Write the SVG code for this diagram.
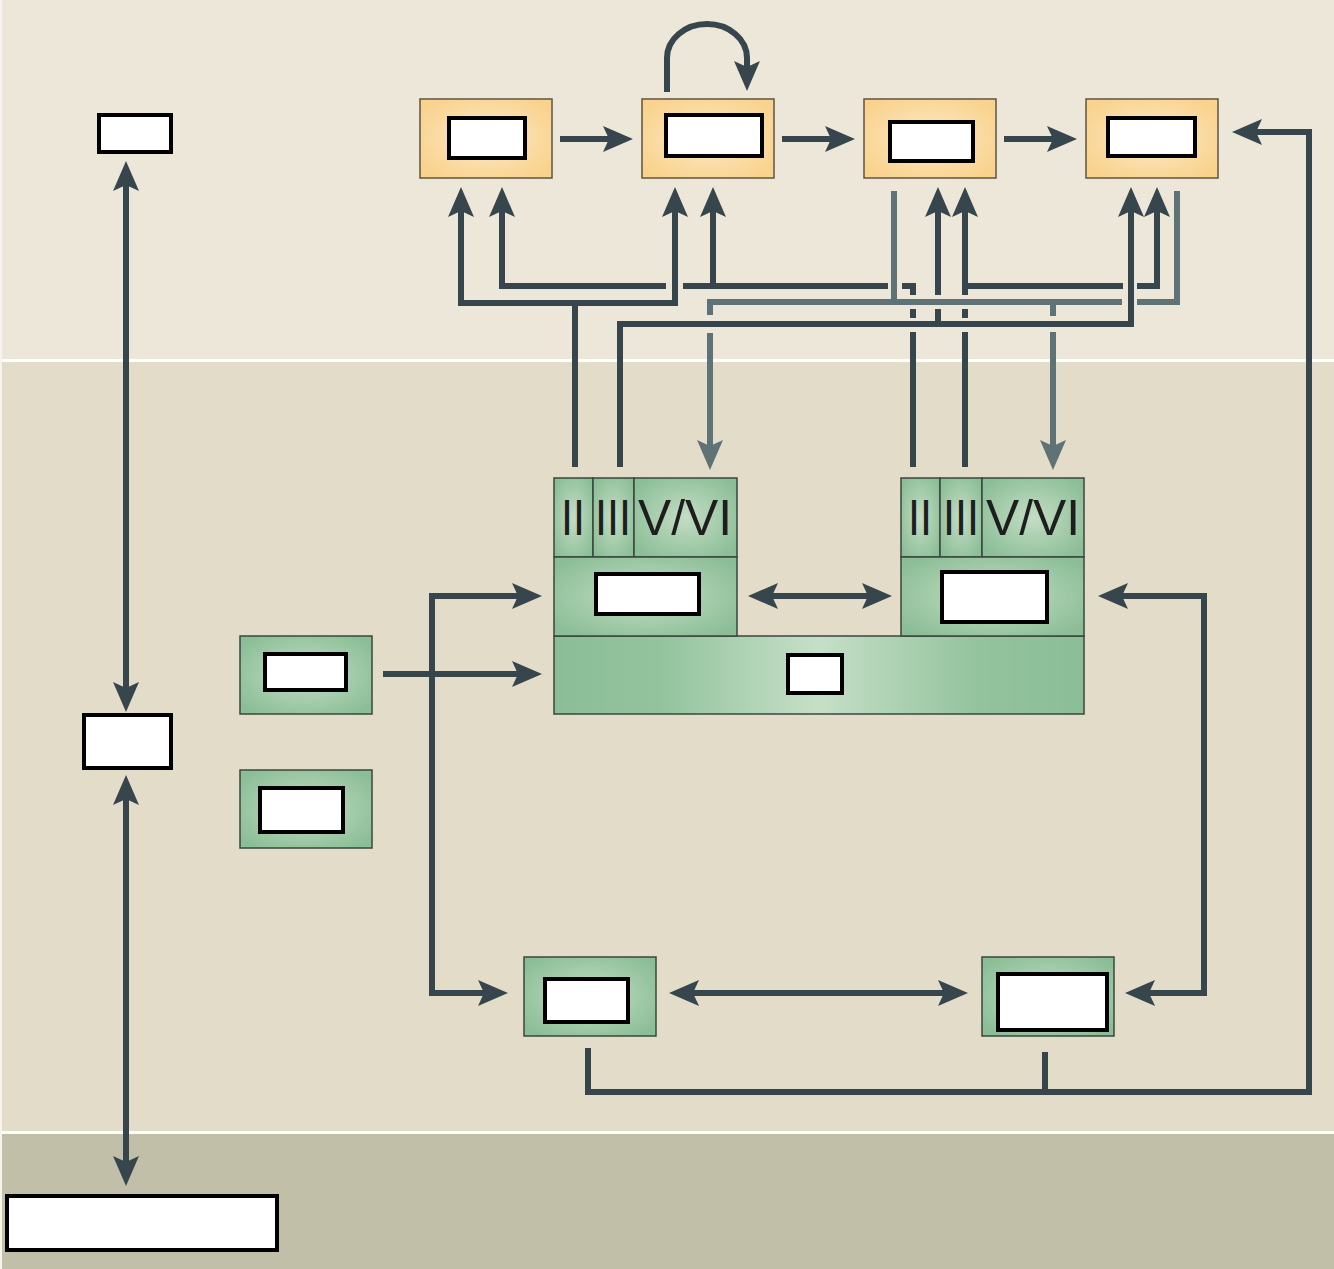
<svg xmlns="http://www.w3.org/2000/svg" width="1334" height="1269" viewBox="0 0 1334 1269">
<defs>
<radialGradient id="gOr" cx="50%" cy="50%" r="62%"><stop offset="0" stop-color="#FDE9C6"/><stop offset="1" stop-color="#F9D28C"/></radialGradient>
<radialGradient id="gGr" cx="50%" cy="50%" r="62%"><stop offset="0" stop-color="#C3DDC4"/><stop offset="1" stop-color="#8BBE96"/></radialGradient>
<linearGradient id="gBase" x1="0" y1="0" x2="1" y2="0"><stop offset="0" stop-color="#8BBE96"/><stop offset="0.2" stop-color="#93C39D"/><stop offset="0.5" stop-color="#C6DFC8"/><stop offset="0.8" stop-color="#93C39D"/><stop offset="1" stop-color="#8BBE96"/></linearGradient>
<marker id="ad" viewBox="0 0 30 26" markerWidth="30" markerHeight="26" refX="9" refY="13" orient="auto-start-reverse" markerUnits="userSpaceOnUse"><path d="M0,0 L30,13 L0,26 L6,13 z" fill="#36464C"/></marker>
<marker id="al" viewBox="0 0 30 26" markerWidth="30" markerHeight="26" refX="9" refY="13" orient="auto-start-reverse" markerUnits="userSpaceOnUse"><path d="M0,0 L30,13 L0,26 L6,13 z" fill="#5F7276"/></marker>
</defs>
<style>
.or{fill:url(#gOr);stroke:#5E5443;stroke-width:1.5}
.gr{fill:url(#gGr);stroke:#3B463E;stroke-width:1.5}
.bs{fill:url(#gBase);stroke:#3B463E;stroke-width:1.5}
.wb{fill:#FFFFFF;stroke:#000000;stroke-width:4}
.d{fill:none;stroke:#36464C;stroke-width:6}
.l{fill:none;stroke:#5F7276;stroke-width:6}
.da{marker-end:url(#ad)}
.db{marker-start:url(#ad);marker-end:url(#ad)}
.la{marker-end:url(#al)}
.rn{font-family:"Liberation Sans",Arial,sans-serif;font-size:50px;fill:#1E1E1E;text-anchor:middle}
</style>
<!-- background -->
<rect x="0" y="0" width="1334" height="359" fill="#EDE7D9"/>
<rect x="0" y="359" width="1334" height="3" fill="#FFFFFF"/>
<rect x="0" y="362" width="1334" height="769" fill="#E3DCC8"/>
<rect x="0" y="1131" width="1334" height="3" fill="#FFFFFF"/>
<rect x="0" y="1134" width="1334" height="135" fill="#C2BFA8"/>
<rect x="0" y="0" width="2" height="1269" fill="#F7F4EE"/>

<g id="connectors">
<!-- top chain -->
<path class="d da" d="M560,139 H612"/>
<path class="d da" d="M782,139 H834"/>
<path class="d da" d="M1004,139 H1056"/>
<path class="d da" d="M667,92 V58 A40,34 0 0 1 747,58 V70"/>
<!-- left vertical -->
<path class="d db" d="M126,182 V691"/>
<path class="d db" d="M126,796 V1165"/>
<!-- middle -->
<path class="d da" d="M383,674 H521"/>
<path class="d db" d="M521,596 H432 V993 H487"/>
<path class="d db" d="M769,596 H871"/>
<path class="d db" d="M690,993 H947"/>
<path class="d db" d="M1119,596 H1204 V993 H1146"/>
<path class="d da" d="M588,1048 V1092 H1309 V132 H1253"/>
<path class="d" d="M1045,1052 V1092"/>
<!-- top network : light -->
<path class="l" d="M894,191 V302"/>
<path class="l" d="M1177,191 V302 H1137"/>
<path class="l" d="M1122,302 H710 V315"/>
<path class="l la" d="M710,333 V449"/>
<path class="l" d="M1053,302 V316"/>
<path class="l la" d="M1053,332 V449"/>
<!-- top network : dark -->
<path class="d db" d="M461,208 V303 H675 V208"/>
<path class="d" d="M575,303 V467"/>
<path class="d da" d="M666,286 H502 V208"/>
<path class="d" d="M683,286 H888"/>
<path class="d da" d="M713,286 V208"/>
<path class="d" d="M902,286 H913 V295"/>
<path class="d" d="M913,309 V318"/>
<path class="d" d="M913,332 V467"/>
<path class="d da" d="M620,467 V324 H1131 V208"/>
<path class="d" d="M938,324 V309"/>
<path class="d da" d="M938,295 V208"/>
<path class="d da" d="M965,286 V208"/>
<path class="d" d="M965,286 V295"/>
<path class="d" d="M965,309 V318"/>
<path class="d" d="M965,332 V467"/>
<path class="d" d="M965,286 H1123"/>
<path class="d da" d="M1137,286 H1157 V208"/>
</g>

<g id="node-top-left"><rect class="wb" x="99" y="115" width="72" height="37"/></g>
<g id="node-o1"><rect class="or" x="420" y="99" width="132" height="79"/><rect class="wb" x="449" y="118" width="76" height="40"/></g>
<g id="node-o2"><rect class="or" x="642" y="99" width="132" height="79"/><rect class="wb" x="666" y="115" width="96" height="41"/></g>
<g id="node-o3"><rect class="or" x="864" y="99" width="132" height="79"/><rect class="wb" x="890" y="122" width="83" height="39"/></g>
<g id="node-o4"><rect class="or" x="1086" y="99" width="132" height="79"/><rect class="wb" x="1108" y="118" width="87" height="38"/></g>

<g id="node-mid-left"><rect class="wb" x="84" y="715" width="87" height="53"/></g>
<g id="node-bottom-left"><rect class="wb" x="7" y="1196" width="270" height="54"/></g>

<g id="node-g1"><rect class="gr" x="240" y="636" width="132" height="78"/><rect class="wb" x="265" y="654" width="81" height="36"/></g>
<g id="node-g2"><rect class="gr" x="240" y="770" width="132" height="78"/><rect class="wb" x="260" y="788" width="83" height="44"/></g>

<g id="node-base"><rect class="bs" x="554" y="636" width="530" height="78"/><rect class="wb" x="788" y="655" width="54" height="38"/></g>
<g id="node-unit-left">
<rect class="gr" x="554" y="478" width="39" height="79"/>
<rect class="gr" x="593" y="478" width="41" height="79"/>
<rect class="gr" x="634" y="478" width="103" height="79"/>
<rect class="gr" x="554" y="557" width="183" height="79"/>
<rect class="wb" x="596" y="574" width="103" height="40"/>
<text class="rn" x="573" y="535" textLength="24" lengthAdjust="spacingAndGlyphs">II</text>
<text class="rn" x="613" y="535" textLength="36" lengthAdjust="spacingAndGlyphs">III</text>
<text class="rn" x="685" y="535" textLength="94" lengthAdjust="spacingAndGlyphs">V/VI</text>
</g>
<g id="node-unit-right">
<rect class="gr" x="901" y="478" width="39" height="79"/>
<rect class="gr" x="940" y="478" width="42" height="79"/>
<rect class="gr" x="982" y="478" width="102" height="79"/>
<rect class="gr" x="901" y="557" width="183" height="79"/>
<rect class="wb" x="942" y="572" width="105" height="50"/>
<text class="rn" x="920" y="535" textLength="24" lengthAdjust="spacingAndGlyphs">II</text>
<text class="rn" x="961" y="535" textLength="36" lengthAdjust="spacingAndGlyphs">III</text>
<text class="rn" x="1033" y="535" textLength="94" lengthAdjust="spacingAndGlyphs">V/VI</text>
</g>

<g id="node-g3"><rect class="gr" x="524" y="957" width="132" height="79"/><rect class="wb" x="545" y="979" width="83" height="43"/></g>
<g id="node-g4"><rect class="gr" x="982" y="957" width="132" height="79"/><rect class="wb" x="998" y="974" width="109" height="56"/></g>
</svg>
